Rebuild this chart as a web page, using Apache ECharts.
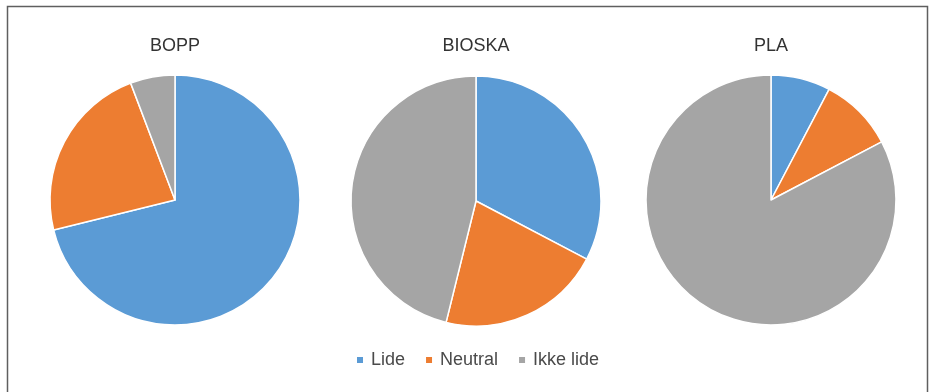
<!DOCTYPE html>
<html><head><meta charset="utf-8">
<script src="https://cdn.jsdelivr.net/npm/echarts@6/dist/echarts.min.js"></script>
<style>html,body{margin:0;padding:0;background:#fff}#c{width:931px;height:392px}</style>
</head><body><div id="c"></div>
<script>
const categories = ['Lide', 'Neutral', 'Ikke lide'];
const chartTitles = ['BOPP', 'BIOSKA', 'PLA'];
const boppValues = [37, 12, 3];
const bioskaValues = [17, 11, 24];
const plaValues = [4, 5, 43];
const colors = ['#5B9BD5', '#ED7D31', '#A5A5A5'];

const allValues = [boppValues, bioskaValues, plaValues];
const centersX = [175, 476, 771];
const centersY = [200, 201, 200];
const font = 'Liberation Sans, Arial, sans-serif';

const chart = echarts.init(document.getElementById('c'), null, {renderer: 'canvas'});
chart.setOption({
  animation: false,
  color: colors,
  graphic: [{
    type: 'rect', shape: {x: 7.5, y: 6.5, width: 920, height: 400},
    style: {fill: 'none', stroke: '#5f5f5f', lineWidth: 1.5}, silent: true
  }],
  title: chartTitles.map((t, i) => ({
    text: t, left: centersX[i], top: 37, textAlign: 'center', padding: 0,
    textStyle: {fontFamily: font, fontSize: 18, fontWeight: 'normal', color: '#333333'}
  })),
  legend: {
    data: categories, left: 355, top: 351, icon: 'rect',
    itemWidth: 8, itemHeight: 8, itemGap: 19, padding: 0,
    textStyle: {fontFamily: font, fontSize: 18, color: '#4a4a4a', padding: [0, 0, 0, 2]}
  },
  series: allValues.map((vals, i) => ({
    type: 'pie', radius: 125, center: [centersX[i], centersY[i]],
    startAngle: 90, clockwise: true,
    label: {show: false}, labelLine: {show: false},
    emphasis: {disabled: true},
    itemStyle: {borderColor: '#fff', borderWidth: 1.5},
    data: categories.map((c, j) => ({name: c, value: vals[j]}))
  }))
});
</script></body></html>
